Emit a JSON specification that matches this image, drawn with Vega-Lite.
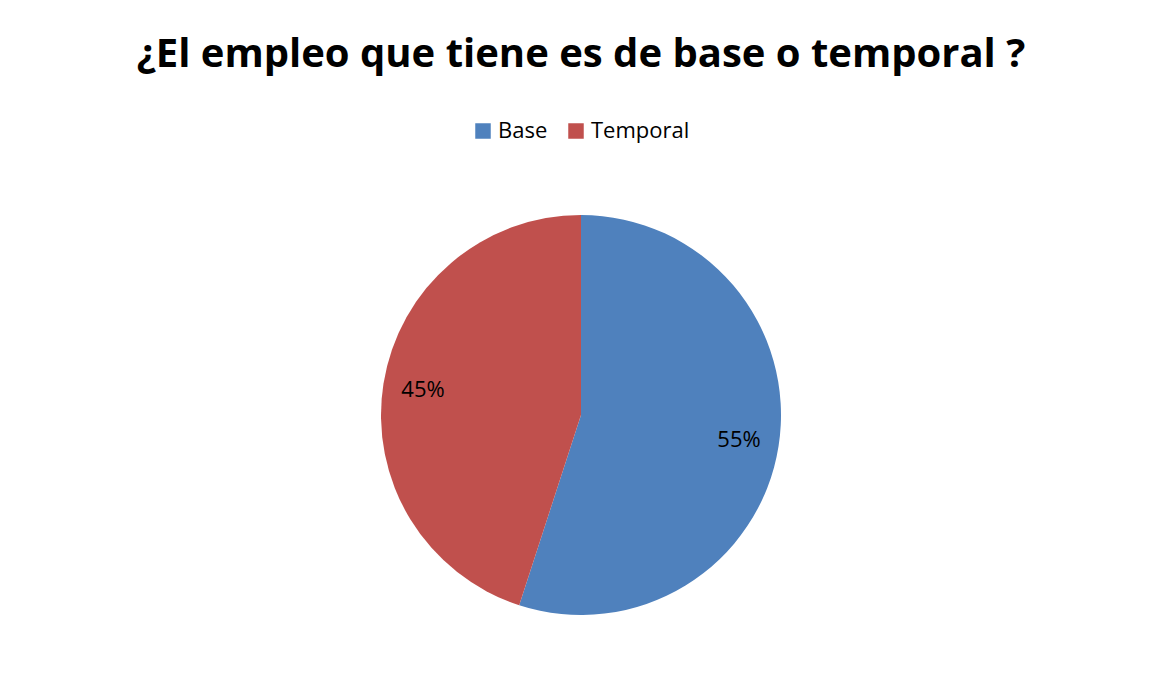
{
  "$schema": "https://vega.github.io/schema/vega-lite/v6.json",
  "autosize": {"type": "none"},
  "width": 400,
  "height": 400,
  "padding": {"left": 381, "top": 215, "right": 369, "bottom": 58},
  "background": "white",
  "title": {
    "text": "¿El empleo que tiene es de base o temporal ?",
    "font": "Open Sans",
    "fontSize": 40,
    "fontWeight": "bold",
    "color": "#000000",
    "anchor": "middle",
    "baseline": "alphabetic",
    "offset": 13
  },
  "data": {
    "values": [
      {"tipo": "Base", "valor": 0.55},
      {"tipo": "Temporal", "valor": 0.45}
    ]
  },
  "encoding": {
    "theta": {"field": "valor", "type": "quantitative", "stack": true},
    "order": {"field": "tipo", "type": "nominal", "sort": "ascending"}
  },
  "layer": [
    {
      "mark": {"type": "arc", "outerRadius": 200, "stroke": null},
      "encoding": {
        "color": {
          "field": "tipo",
          "type": "nominal",
          "scale": {"domain": ["Base", "Temporal"], "range": ["#4F81BD", "#C0504D"]},
          "legend": {
            "title": null,
            "orient": "none",
            "direction": "horizontal",
            "legendX": 91,
            "legendY": -95,
            "symbolType": "square",
            "symbolSize": 240,
            "symbolStrokeWidth": 0,
            "labelFont": "Open Sans",
            "labelFontSize": 22,
            "labelColor": "#000000",
            "labelOffset": 4,
            "columnPadding": 17,
            "padding": 0
          }
        }
      }
    },
    {
      "mark": {"type": "text", "radius": 160, "font": "Open Sans", "fontSize": 22, "color": "#000000"},
      "encoding": {
        "detail": {"field": "tipo", "type": "nominal"},
        "text": {"field": "valor", "type": "quantitative", "format": ".0%"}
      }
    }
  ],
  "config": {"view": {"stroke": null}}
}
